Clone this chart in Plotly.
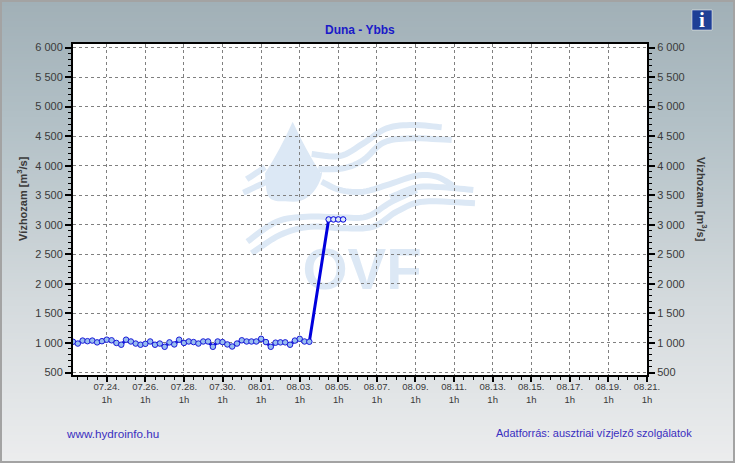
import plotly.graph_objects as go
from datetime import datetime, timedelta

W, H = 735, 463
L, R, T, B = 73, 647, 44, 375

# ---- data ----
start_time = "2024-07-22 07:00"
step_hours = 6
base_values = [1020, 990, 1040, 1030, 1040, 1010, 1030, 1055, 1045, 1000, 970, 1055, 1025,
               990, 970, 985, 1025, 970, 990, 935, 1010, 975, 1055, 1000, 1025, 1015, 990,
               1025, 1025, 935, 1025, 1015, 975, 940, 990, 1045, 1025, 1025, 1025, 1070,
               1015, 935, 1005, 1010, 1010, 970, 1040, 1070, 1025, 1020]
plateau_offset = 53
plateau_values = [3090, 3090, 3090, 3090]
tick_days = ["07.24.", "07.26.", "07.28.", "07.30.", "08.01.", "08.03.", "08.05.", "08.07.",
             "08.09.", "08.11.", "08.13.", "08.15.", "08.17.", "08.19.", "08.21."]
y_ticks = [500, 1000, 1500, 2000, 2500, 3000, 3500, 4000, 4500, 5000, 5500, 6000]
y_labels = ["500", "1 000", "1 500", "2 000", "2 500", "3 000", "3 500", "4 000", "4 500",
            "5 000", "5 500", "6 000"]

t0 = datetime.fromisoformat(start_time)
base_x = [t0 + timedelta(hours=step_hours * i) for i in range(len(base_values))]
plat_x = [t0 + timedelta(hours=step_hours * (plateau_offset + i)) for i in range(len(plateau_values))]
first_tick = datetime(2024, 7, 24, 1)
tick_x = [first_tick + timedelta(days=2 * i) for i in range(len(tick_days))]
tick_text = [d + "<br>1h" for d in tick_days]

BLUE = "#0000dd"
WM = "#dce8f5"


def px(x):
    return (x - L) / (R - L)


def py(y):
    return (B - y) / (B - T)


def rgb_at(y):
    stops = [(0, (161, 176, 183)), (120, (178, 192, 198)), (300, (212, 218, 221)), (463, (236, 237, 238))]
    for (a, ca), (b, cb) in zip(stops, stops[1:]):
        if a <= y <= b:
            f = (y - a) / (b - a)
            return "rgb(%d,%d,%d)" % tuple(round(p + (q - p) * f) for p, q in zip(ca, cb))
    return "rgb(236,237,238)"


def z(pts):
    return [(230 + a / 3, 110 + b / 3) for a, b in pts]


def smooth(pts):
    p = [pts[0]] + pts + [pts[-1]]
    out = []
    for i in range(1, len(p) - 2):
        for k in range(8):
            t = k / 8
            c = []
            for d in (0, 1):
                a, b, e, f = p[i - 1][d], p[i][d], p[i + 1][d], p[i + 2][d]
                c.append(0.5 * (2 * b + (e - a) * t + (2 * a - 5 * b + 4 * e - f) * t * t
                                + (3 * b - a - 3 * e + f) * t ** 3))
            out.append(c)
    out.append(list(pts[-1]))
    return "M" + " L".join("%.4f,%.4f" % (px(a), py(b)) for a, b in out)


waves = [
    [(245, 132), (330, 138), (400, 100), (470, 55), (550, 45), (635, 52)],
    [(265, 178), (340, 175), (400, 150), (460, 98), (540, 85), (665, 90)],
    [(50, 208), (105, 172)],
    [(40, 248), (110, 215)],
    [(275, 215), (330, 240), (400, 245), (480, 222), (560, 197), (620, 200), (670, 228)],
    [(480, 262), (560, 232), (640, 232), (730, 240)],
    [(52, 395), (140, 335), (230, 320), (330, 322), (410, 320), (480, 278), (560, 240)],
    [(65, 430), (150, 375), (240, 350), (340, 355), (430, 350), (500, 305), (580, 275), (735, 280)],
]

shapes = []
for y in range(0, H, 3):
    shapes.append(dict(type="rect", xref="paper", yref="paper", x0=px(0), x1=px(W), y0=py(y + 3), y1=py(y),
                       fillcolor=rgb_at(y), line_width=0, layer="below"))
shapes.append(dict(type="rect", xref="paper", yref="paper", x0=px(1), x1=px(W - 1), y0=py(H - 1), y1=py(1),
                   fillcolor="rgba(0,0,0,0)", line=dict(color="#a3a3a3", width=2), layer="below"))
shapes.append(dict(type="rect", xref="paper", yref="paper", x0=px(L), x1=px(R), y0=py(B), y1=py(T),
                   fillcolor="white", line_width=0, layer="below"))
for w in waves:
    shapes.append(dict(type="path", xref="paper", yref="paper", path=smooth(z(w)),
                       line=dict(color=WM, width=6), layer="below"))
d = z([(188, 35), (105, 190), (190, 275), (272, 190)])
ctl = z([(150, 120), (95, 160), (110, 275), (270, 275), (285, 160), (225, 115)])
shapes.append(dict(type="path", xref="paper", yref="paper", layer="below", fillcolor=WM, line_width=0,
                   path="M%.4f,%.4f Q%.4f,%.4f %.4f,%.4f C%.4f,%.4f %.4f,%.4f %.4f,%.4f C%.4f,%.4f %.4f,%.4f %.4f,%.4f Q%.4f,%.4f %.4f,%.4f Z" % (
                       px(d[0][0]), py(d[0][1]), px(ctl[0][0]), py(ctl[0][1]), px(d[1][0]), py(d[1][1]),
                       px(ctl[2][0]), py(ctl[2][1]), px(ctl[2][0]), py(ctl[2][1]), px(d[2][0]), py(d[2][1]),
                       px(ctl[3][0]), py(ctl[3][1]), px(ctl[4][0]), py(ctl[4][1]), px(d[3][0]), py(d[3][1]),
                       px(ctl[5][0]), py(ctl[5][1]), px(d[0][0]), py(d[0][1]))))
shapes.append(dict(type="rect", xref="paper", yref="paper", x0=px(291), x1=px(433), y0=py(292), y1=py(235),
                   fillcolor="rgba(0,0,0,0)", line_width=0, layer="below",
                   label=dict(text="<b>OVF</b>", font=dict(family="Liberation Sans", size=58, color=WM),
                              textposition="middle center")))
shapes.append(dict(type="rect", xref="paper", yref="paper", x0=px(692), x1=px(712), y0=py(30), y1=py(10),
                   fillcolor="#1f3f96", line=dict(color="white", width=0.5), layer="above"))

fig = go.Figure()
line_x = base_x + plat_x
line_y = base_values + plateau_values
fig.add_trace(go.Scatter(x=line_x, y=line_y, mode="lines", line=dict(color=BLUE, width=3),
                         hoverinfo="skip", showlegend=False))
fig.add_trace(go.Scatter(x=base_x, y=base_values, mode="markers", showlegend=False,
                         marker=dict(symbol="circle", size=5.5, color="#98bdf0", line=dict(color="#1a1ad8", width=1))))
fig.add_trace(go.Scatter(x=plat_x, y=plateau_values, mode="markers", showlegend=False,
                         marker=dict(symbol="circle", size=5.5, color="#dce8f7", line=dict(color=BLUE, width=1))))
# second y axis carries the right-hand scale
fig.add_trace(go.Scatter(x=line_x[:1], y=line_y[:1], yaxis="y2", mode="lines", opacity=0,
                         hoverinfo="skip", showlegend=False))

FONT = "Liberation Sans"
TXT = "#3a3a3a"
y_per_px = 500 / 29.55
y_range = [500 - 2.5 * y_per_px, 6000 + 3.5 * y_per_px]
y_common = dict(range=y_range, tickmode="array", tickvals=y_ticks, ticktext=y_labels,
                ticks="outside", ticklen=6, tickwidth=2, tickcolor="black",
                tickfont=dict(family=FONT, size=11, color=TXT),
                showline=True, linecolor="black", linewidth=2, zeroline=False,
                minor=dict(dtick=100, tick0=0, ticks="outside", ticklen=3, tickwidth=1, tickcolor="black",
                           showgrid=False))


def note(text, x, y, size, color, xanchor="center", angle=0, family=FONT):
    return dict(text=text, x=px(x), y=py(y), xref="paper", yref="paper", showarrow=False,
                xanchor=xanchor, yanchor="middle", textangle=angle,
                font=dict(family=family, size=size, color=color))


fig.update_layout(
    width=W, height=H, margin=dict(l=L, r=W - R, t=T, b=H - B, autoexpand=False),
    paper_bgcolor="#d0d6d9", plot_bgcolor="white", showlegend=False, shapes=shapes,
    font=dict(family=FONT, color=TXT),
    xaxis=dict(type="date", range=[start_time, "2024-08-21 01:00"], tickmode="array", tickvals=tick_x,
               ticktext=tick_text, ticks="outside", ticklen=5, tickwidth=2, tickcolor="black",
               tickfont=dict(family=FONT, size=9.5, color=TXT), tickangle=0, ticklabelstandoff=-3,
               showline=True, mirror=True, linecolor="black", linewidth=2, showgrid=True,
               gridcolor="#808080", griddash="3px,3px", gridwidth=1, zeroline=False,
               minor=dict(dtick=43200000, tick0="2024-07-24 01:00", ticks="outside", ticklen=3,
                          tickwidth=1, tickcolor="black", showgrid=False)),
    yaxis=dict(showgrid=True, gridcolor="#808080", griddash="3px,3px", gridwidth=1, **y_common),
    yaxis2=dict(overlaying="y", side="right", showgrid=False, **y_common),
    annotations=[
        note("<b>Duna - Ybbs</b>", 360, 30.5, 12, "#1a1ac8"),
        note("<b>Vízhozam [m<sup>3</sup>/s]</b>", 22, 199, 11, TXT, angle=-90),
        note("<b>Vízhozam [m<sup>3</sup>/s]</b>", 702, 199, 11, TXT, angle=90),
        note("www.hydroinfo.hu", 64, 433, 11.7, "#3a2fc0", xanchor="left"),
        note("Adatforrás: ausztriai vízjelző szolgálatok", 694, 433, 11, "#3a2fc0", xanchor="right"),
        note("<b>i</b>", 702, 20, 21, "white", family="Liberation Serif"),
    ],
)
fig.write_html("out.html", config=dict(displayModeBar=False),
               post_script="document.body.style.margin='0';document.body.style.overflow='hidden';")
